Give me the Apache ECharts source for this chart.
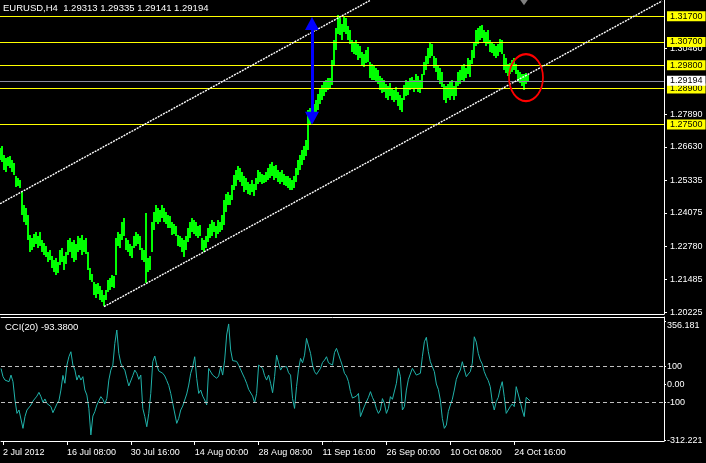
<!DOCTYPE html>
<html><head><meta charset="utf-8">
<script src="https://cdn.jsdelivr.net/npm/echarts@6/dist/echarts.min.js"></script>
<style>html,body{margin:0;padding:0;background:#000}#c{width:706px;height:463px}</style>
</head><body><div id="c"></div><script>
// ---------- data ----------
const symbolName = 'EURUSD';
const timeframe = 'H4';
const lastOHLC = [1.29313, 1.29335, 1.29141, 1.29194];
const cciPeriod = 20;
const cciLast = -93.38;
const slots = 333;                 // bar slots on the time axis (2 H4 bars per slot)
const tickFirst = 1, tickEvery = 32;
const tickLabels = ['2 Jul 2012','16 Jul 08:00','30 Jul 16:00','14 Aug 00:00','28 Aug 08:00','11 Sep 16:00','26 Sep 00:00','10 Oct 08:00','24 Oct 16:00'];

const priceHigh = [
1.2659,1.2667,1.2632,1.2620,1.2624,1.2628,1.2613,1.2601,1.2551,1.2543,
1.2535,1.2489,1.2438,1.2426,1.2399,1.2322,1.2310,1.2326,1.2333,1.2318,
1.2333,1.2302,1.2291,1.2279,1.2256,1.2264,1.2240,1.2225,1.2233,1.2217,
1.2264,1.2271,1.2240,1.2256,1.2302,1.2310,1.2295,1.2302,1.2287,1.2318,
1.2310,1.2322,1.2302,1.2310,1.2256,1.2194,1.2171,1.2140,1.2132,1.2136,
1.2124,1.2109,1.2089,1.2109,1.2147,1.2155,1.2167,1.2163,1.2310,1.2333,
1.2326,1.2372,1.2388,1.2310,1.2302,1.2287,1.2279,1.2318,1.2333,1.2326,
1.2318,1.2271,1.2264,1.2407,1.2233,1.2240,1.2372,1.2411,1.2438,1.2426,
1.2419,1.2438,1.2426,1.2411,1.2399,1.2395,1.2372,1.2364,1.2357,1.2322,
1.2318,1.2310,1.2302,1.2318,1.2349,1.2372,1.2388,1.2380,1.2372,1.2357,
1.2361,1.2310,1.2302,1.2318,1.2349,1.2364,1.2380,1.2372,1.2357,1.2380,
1.2372,1.2399,1.2457,1.2481,1.2489,1.2477,1.2516,1.2554,1.2574,1.2589,
1.2582,1.2566,1.2551,1.2543,1.2527,1.2520,1.2535,1.2520,1.2543,1.2574,
1.2566,1.2558,1.2554,1.2566,1.2582,1.2597,1.2605,1.2589,1.2593,1.2574,
1.2566,1.2574,1.2558,1.2551,1.2551,1.2543,1.2535,1.2551,1.2582,1.2613,
1.2632,1.2651,1.2667,1.2690,1.2806,1.2814,1.2826,1.2830,1.2845,1.2868,
1.2892,1.2903,1.2915,1.2923,1.2930,1.2930,1.3000,1.3078,1.3124,1.3175,
1.3163,1.3140,1.3171,1.3163,1.3132,1.3117,1.3078,1.3070,1.3078,1.3062,
1.3055,1.3031,1.3024,1.3039,1.3051,1.2993,1.2985,1.2977,1.2969,1.2961,
1.2938,1.2930,1.2923,1.2907,1.2899,1.2911,1.2892,1.2884,1.2896,1.2876,
1.2865,1.2853,1.2903,1.2923,1.2915,1.2930,1.2934,1.2923,1.2946,1.2938,
1.2923,1.2946,1.2993,1.3016,1.3047,1.3066,1.3062,1.3016,1.3008,1.2977,
1.2969,1.2954,1.2907,1.2899,1.2907,1.2915,1.2923,1.2899,1.2915,1.2954,
1.2961,1.2977,1.2985,1.2969,1.3008,1.3000,1.3039,1.3070,1.3117,1.3124,
1.3132,1.3136,1.3117,1.3109,1.3117,1.3078,1.3070,1.3062,1.3055,1.3062,
1.3082,1.3078,1.3024,1.3008,1.2985,1.2989,1.3000,1.3008,1.2985,1.2961,
1.2954,1.2946,1.2946,1.2950,1.2942];

const priceLow = [
1.2613,1.2605,1.2574,1.2566,1.2589,1.2582,1.2566,1.2554,1.2508,1.2512,
1.2504,1.2399,1.2372,1.2361,1.2302,1.2256,1.2264,1.2275,1.2287,1.2271,
1.2279,1.2256,1.2244,1.2237,1.2217,1.2225,1.2194,1.2178,1.2167,1.2175,
1.2206,1.2217,1.2186,1.2209,1.2244,1.2256,1.2233,1.2217,1.2225,1.2256,
1.2264,1.2244,1.2256,1.2248,1.2186,1.2147,1.2140,1.2089,1.2078,1.2093,
1.2070,1.2062,1.2047,1.2070,1.2101,1.2109,1.2120,1.2116,1.2167,1.2279,
1.2271,1.2302,1.2318,1.2264,1.2256,1.2240,1.2233,1.2271,1.2279,1.2287,
1.2264,1.2225,1.2217,1.2136,1.2178,1.2186,1.2256,1.2341,1.2372,1.2364,
1.2372,1.2388,1.2372,1.2364,1.2349,1.2349,1.2322,1.2326,1.2318,1.2279,
1.2275,1.2256,1.2237,1.2264,1.2295,1.2310,1.2333,1.2326,1.2318,1.2310,
1.2318,1.2264,1.2256,1.2271,1.2295,1.2310,1.2318,1.2333,1.2310,1.2326,
1.2333,1.2341,1.2361,1.2411,1.2438,1.2438,1.2457,1.2496,1.2512,1.2535,
1.2527,1.2512,1.2489,1.2496,1.2481,1.2477,1.2489,1.2473,1.2496,1.2520,
1.2527,1.2520,1.2523,1.2527,1.2535,1.2543,1.2551,1.2535,1.2543,1.2527,
1.2520,1.2527,1.2516,1.2512,1.2504,1.2496,1.2496,1.2504,1.2527,1.2554,
1.2574,1.2593,1.2613,1.2628,1.2651,1.2752,1.2768,1.2775,1.2787,1.2806,
1.2830,1.2845,1.2861,1.2876,1.2884,1.2892,1.2903,1.2981,1.3039,1.3101,
1.3097,1.3078,1.3109,1.3101,1.3078,1.3062,1.3031,1.3024,1.3020,1.3000,
1.3008,1.2977,1.2973,1.2989,1.2993,1.2930,1.2923,1.2923,1.2915,1.2907,
1.2884,1.2872,1.2876,1.2853,1.2845,1.2861,1.2845,1.2837,1.2845,1.2822,
1.2806,1.2799,1.2845,1.2861,1.2865,1.2884,1.2888,1.2876,1.2892,1.2876,
1.2872,1.2892,1.2942,1.2961,1.2985,1.3008,1.3016,1.2969,1.2954,1.2923,
1.2907,1.2896,1.2845,1.2834,1.2853,1.2845,1.2861,1.2845,1.2861,1.2899,
1.2907,1.2923,1.2915,1.2930,1.2946,1.2934,1.2985,1.3008,1.3055,1.3062,
1.3078,1.3086,1.3070,1.3055,1.3062,1.3031,1.3027,1.3016,1.3008,1.3016,
1.3031,1.3024,1.2961,1.2950,1.2938,1.2946,1.2954,1.2961,1.2946,1.2915,
1.2911,1.2899,1.2884,1.2907,1.2915];

const cci = [
90,44,25,35,16,53,16,-87,-162,-143,
-143,-246,-180,-143,-134,-115,-93,-83,-65,-44,
-68,-100,-81,-106,-115,-124,-158,-134,-109,-91,
-31,51,7,109,156,184,109,81,25,53,
25,44,-31,-59,-134,-283,-177,-152,-115,-91,
-68,-83,-109,-78,25,81,109,231,306,175,
119,96,81,35,-8,-3,50,81,63,29,
53,-134,-180,-237,-162,-50,128,160,109,76,
81,63,48,22,-5,-50,-106,-115,-218,-190,
-143,-121,-87,-53,-3,63,100,156,35,-50,
-31,-65,-87,-115,90,90,53,50,35,48,
100,53,137,278,340,194,134,128,130,109,
109,59,35,7,-27,-31,-65,-102,-50,109,
119,91,50,25,53,7,-46,44,165,122,
81,100,109,100,66,53,-78,-134,-12,85,
147,122,165,259,259,175,109,72,57,63,
91,124,137,156,122,128,109,179,203,197,
137,104,63,48,16,-40,-76,-72,-65,-50,
-180,-190,-121,-115,-72,-40,-72,-96,-136,-162,
-143,-79,-106,-162,-134,-68,-83,-78,7,91,
44,-143,-124,-31,29,25,91,100,53,44,
63,156,240,265,184,128,119,72,3,-27,
-87,-190,-246,-228,-152,-115,-83,-31,29,59,
81,128,85,44,59,72,119,268,238,175,
137,115,72,44,22,-12,-96,-143,-96,-72,
-22,16,-68,-162,-171,-124,-109,-124,-12,-22,
-96,-143,-180,-72,-83,-93];

const priceTicks = [1.20225, 1.21485, 1.22780, 1.24075, 1.25335, 1.26630, 1.27890, 1.30460];
const hLevels = [1.31700, 1.30700, 1.29800, 1.28900, 1.27500];
const bidPrice = 1.29194;
const cciLevels = [100, -100];
const cciTicks = [356.181, 100, 0, -100, -312.221];
const cciTickLabels = ['356.181', '100', '0.00', '-100', '-312.221'];
const upperChannel = [[0, 1.2443], [185, 1.3231]];
const lowerChannel = [[52, 1.2044], [331, 1.3229]];
const arrowLine = [[156, 1.27742], [156, 1.31421]];
const ellipseCenter = [263, 1.2932];
const shiftMarker = [262, 1.3226];

// ---------- chart ----------
const FONT = 'Liberation Sans';
const yMin = 1.20155, yMax = 1.32328;
const cciMin = -317, cciMax = 379;
const cats = Array.from({length: slots}, (_, i) => String(i));
const barData = priceLow.map((lo, i) => [i, lo, priceHigh[i]]);
const isTick = (i) => i >= tickFirst && (i - tickFirst) % tickEvery === 0 && (i - tickFirst) / tickEvery < tickLabels.length;
const txt = {color: '#fff', fontSize: 9, fontFamily: FONT};

const levelLabel = (v, bg) => ({show: true, position: 'end', formatter: v.toFixed(5), backgroundColor: bg,
  color: '#000', fontSize: 9, fontFamily: FONT, padding: [1, 3, 0, 3], distance: 3});
const dotted = {color: '#ffffff', width: 1.4, type: [2, 1]};

function renderBar(params, api) {
  const x = api.value(0);
  const top = api.coord([x, api.value(2)]);
  const bot = api.coord([x, api.value(1)]);
  return {type: 'rect', shape: {x: Math.round(top[0]) - 1, y: Math.round(top[1]), width: 2, height: Math.max(1, Math.round(bot[1] - top[1]))},
          style: {fill: '#00ff00'}};
}

const option = {
  backgroundColor: '#000',
  animation: false,
  title: [
    {text: symbolName + ',' + timeframe + '  ' + lastOHLC.map(v => v.toFixed(5)).join(' '), left: 3, top: 3, padding: 0,
     textStyle: {color: '#fff', fontSize: 9.5, fontWeight: 'normal', fontFamily: FONT}},
    {text: 'CCI(' + cciPeriod + ') ' + cciLast.toFixed(4), left: 5, top: 322, padding: 0,
     textStyle: {color: '#fff', fontSize: 9.5, fontWeight: 'normal', fontFamily: FONT}}
  ],
  grid: [
    {left: 0, top: 0, width: 664, height: 314},
    {left: 0, top: 317, width: 664, height: 124}
  ],
  xAxis: [
    {gridIndex: 0, type: 'category', data: cats, boundaryGap: false,
     axisLine: {onZero: false, lineStyle: {color: '#fff', width: 1}}, axisTick: {show: false}, axisLabel: {show: false}, splitLine: {show: false}},
    {gridIndex: 1, type: 'category', data: cats, boundaryGap: false, position: 'bottom',
     axisLine: {onZero: false, lineStyle: {color: '#fff', width: 1}},
     axisTick: {show: true, interval: (i) => isTick(i), length: 4, lineStyle: {color: '#fff'}},
     axisLabel: Object.assign({interval: (i) => isTick(i), formatter: (v, i) => tickLabels[(i - tickFirst) / tickEvery],
       align: 'left', margin: 7}, txt),
     splitLine: {show: false}},
    {gridIndex: 1, type: 'category', data: cats, boundaryGap: false, position: 'top',
     axisLine: {onZero: false, lineStyle: {color: '#fff', width: 1}}, axisTick: {show: false}, axisLabel: {show: false}, splitLine: {show: false}}
  ],
  yAxis: [
    {gridIndex: 0, type: 'value', position: 'right', min: yMin, max: yMax, scale: true,
     axisLine: {show: true, onZero: false, lineStyle: {color: '#fff'}},
     axisTick: {show: true, length: 3, customValues: priceTicks, lineStyle: {color: '#fff'}},
     axisLabel: Object.assign({customValues: priceTicks, formatter: v => v.toFixed(5), margin: 6}, txt),
     splitLine: {show: false}},
    {gridIndex: 1, type: 'value', position: 'right', min: cciMin, max: cciMax,
     axisLine: {show: true, onZero: false, lineStyle: {color: '#fff'}},
     axisTick: {show: true, length: 2, customValues: cciTicks, lineStyle: {color: '#fff'}},
     axisLabel: Object.assign({customValues: cciTicks, margin: 3,
       formatter: v => { const k = cciTicks.indexOf(v); const s = cciTickLabels[k] || String(v); return k === 0 ? '{t|' + s + '}' : s; },
       rich: {t: {padding: [8, 0, 0, 0], color: '#fff', fontSize: 9, fontFamily: FONT}}}, txt),
     splitLine: {show: false}}
  ],
  series: [
    {type: 'custom', xAxisIndex: 0, yAxisIndex: 0, data: barData, renderItem: renderBar, silent: true,
     encode: {x: 0, y: [1, 2]}},
    {type: 'line', xAxisIndex: 0, yAxisIndex: 0, data: [], silent: true,
     markLine: {silent: true, symbol: 'none', animation: false, precision: 5,
       data: hLevels.map(v => ({yAxis: v, lineStyle: {color: '#ffff00', width: 1, type: 'solid'}, label: levelLabel(v, '#ffff00')}))
        .concat([
          {yAxis: bidPrice, lineStyle: {color: '#8a8a9e', width: 1, type: 'solid'}, label: levelLabel(bidPrice, '#ffffff')},
          [{coord: upperChannel[0], lineStyle: dotted, label: {show: false}},
           {coord: upperChannel[1], lineStyle: dotted, label: {show: false}}],
          [{coord: lowerChannel[0], lineStyle: dotted, label: {show: false}},
           {coord: lowerChannel[1], lineStyle: dotted, label: {show: false}}],
          [{coord: arrowLine[0], symbol: 'triangle', symbolSize: [14, 13], lineStyle: {color: '#0000ff', width: 3, type: 'solid'}, label: {show: false}},
           {coord: arrowLine[1], symbol: 'triangle', symbolSize: [14, 13], lineStyle: {color: '#0000ff', width: 3, type: 'solid'}, label: {show: false}}]
        ])},
     markPoint: {silent: true, animation: false, label: {show: false},
       data: [
         {coord: ellipseCenter, symbol: 'circle', symbolSize: [34, 47],
          itemStyle: {color: 'rgba(0,0,0,0)', borderColor: '#ff0000', borderWidth: 2}},
         {coord: shiftMarker, symbol: 'triangle', symbolRotate: 180, symbolSize: [10, 7],
          itemStyle: {color: '#808080'}}
       ]}
    },
    {type: 'line', xAxisIndex: 1, yAxisIndex: 1, data: cci, symbol: 'none', silent: true,
     lineStyle: {color: '#20b2aa', width: 1},
     markLine: {silent: true, symbol: 'none', animation: false, label: {show: false},
       lineStyle: {color: '#c0c0c0', width: 1, type: [4, 3]},
       data: cciLevels.map(v => ({yAxis: v}))}}
  ]
};
const chart = echarts.init(document.getElementById('c'), null, {renderer: 'canvas'});
chart.setOption(option);
</script></body></html>
